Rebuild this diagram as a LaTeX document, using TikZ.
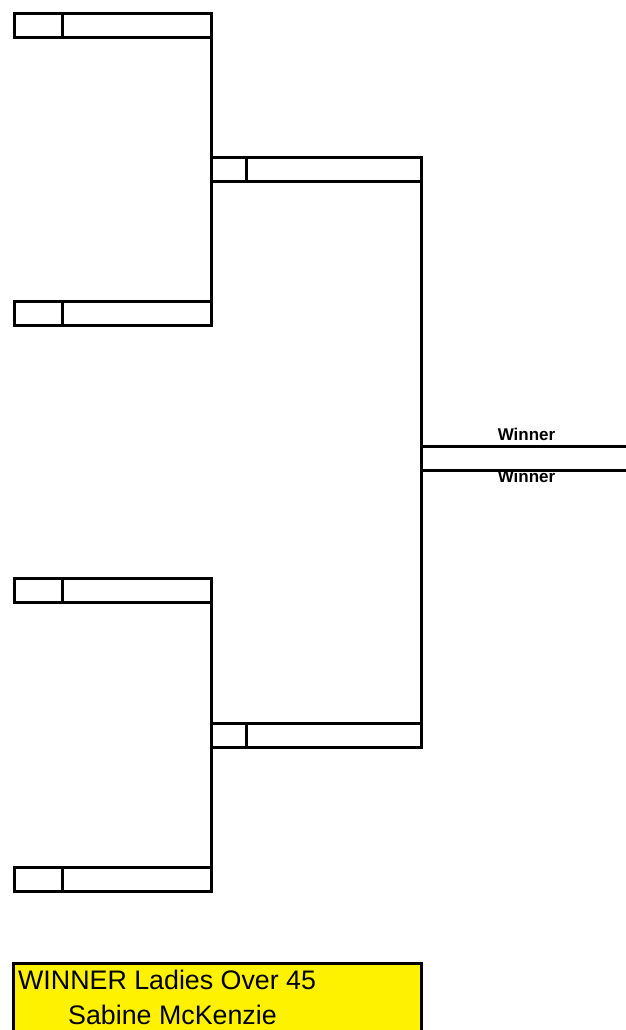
\documentclass[tikz,border=0pt]{standalone}
\usepackage{fontspec}
\setmainfont{Liberation Sans}
\begin{document}
\begin{tikzpicture}[x=1pt,y=-1pt,
  ln/.style={line width=3pt},
  seedcell/.style={draw, ln, inner sep=0pt, outer sep=0pt, minimum height=24pt, anchor=north west},
  lbl/.style={font=\bfseries\fontsize{17}{18}\selectfont, inner sep=0pt},
  winbox/.style={draw, ln, fill=yellow, inner sep=0pt, outer sep=0pt, anchor=north west, minimum width=408pt, minimum height=90pt}]
\useasboundingbox (0,0) rectangle (626,1030);
\begin{scope}
\clip (0,0) rectangle (626,1030);
% round 1
\node[seedcell, minimum width=48pt] (s1) at (14,13.5) {};
\node[seedcell, minimum width=149pt] (n1) at (s1.north east) {};
\node[seedcell, minimum width=48pt] (s2) at (14,301.5) {};
\node[seedcell, minimum width=149pt] (n2) at (s2.north east) {};
\node[seedcell, minimum width=48pt] (s3) at (14,578.5) {};
\node[seedcell, minimum width=149pt] (n3) at (s3.north east) {};
\node[seedcell, minimum width=48pt] (s4) at (14,867) {};
\node[seedcell, minimum width=149pt] (n4) at (s4.north east) {};
% round 2
\node[seedcell, minimum width=35pt] (s5) at (211,157) {};
\node[seedcell, minimum width=175pt] (n5) at (s5.north east) {};
\node[seedcell, minimum width=35pt] (s6) at (211,723) {};
\node[seedcell, minimum width=175pt] (n6) at (s6.north east) {};
% connectors
\draw[ln] (n1.north east) -- (n2.south east);
\draw[ln] (n3.north east) -- (n4.south east);
\draw[ln] (n5.north east) -- (n6.south east);
% winner lines
\coordinate (w1) at (n5.east |- 0,446);
\coordinate (w2) at (n5.east |- 0,470);
\coordinate (e1) at (626,446);
\coordinate (e2) at (626,470);
\draw[ln] (w1) -- (e1);
\draw[ln] (w2) -- (e2);
\node[lbl, anchor=base] (t1) at (526.5,440) {Winner};
\node[lbl, anchor=base] (t2) at (526.5,482) {Winner};
% winner box
\node[winbox] (wb) at (13.5,963.5) {};
\node[anchor=base west, inner sep=0pt, font=\fontsize{26.8}{30}\selectfont] (wt1) at (18,989.5) {WINNER Ladies Over 45};
\node[anchor=base west, inner sep=0pt, font=\fontsize{26.8}{30}\selectfont] (wt2) at (68,1024.5) {Sabine McKenzie};
\end{scope}
\end{tikzpicture}
\end{document}
